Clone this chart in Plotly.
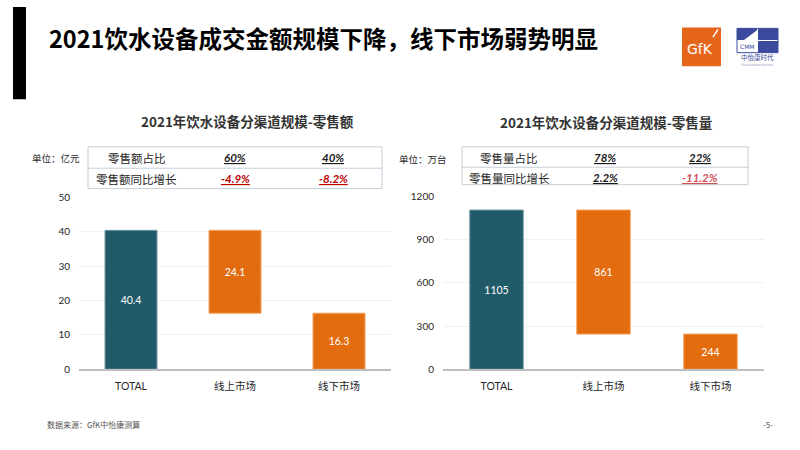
import plotly.graph_objects as go

# ---------------- data ----------------
categories = ["TOTAL", "线上市场", "线下市场"]
amount_values = [40.4, 24.1, 16.3]      # 零售额 (亿元)
volume_values = [1105, 861, 244]        # 零售量 (万台)
amount_ticks = [0, 10, 20, 30, 40, 50]
volume_ticks = [0, 300, 600, 900, 1200]

amount_share = ["60%", "40%"]
amount_growth = ["-4.9%", "-8.2%"]
volume_share = ["78%", "22%"]
volume_growth = ["2.2%", "-11.2%"]

title = "2021饮水设备成交金额规模下降，线下市场弱势明显"
sub_left = "2021年饮水设备分渠道规模-零售额"
sub_right = "2021年饮水设备分渠道规模-零售量"
source = "数据来源：GfK中怡康测算"

W, H = 800, 450
TEAL = "#215A68"
ORANGE = "#E36C0E"
FONT = "Lato, 'Noto Sans CJK SC', sans-serif"
CJK = "'Noto Sans CJK SC', sans-serif"


def px(x):
    return x / W


def py(y):
    return 1 - y / H


def waterfall_bases(vals):
    # total from 0, online sits on top of offline, offline from 0
    return [0, vals[2], 0]


fig = go.Figure()

for vals, xa, ya in [(amount_values, "x", "y"), (volume_values, "x2", "y2")]:
    fig.add_trace(go.Bar(
        x=categories, y=vals, base=waterfall_bases(vals),
        xaxis=xa, yaxis=ya, width=0.5,
        marker=dict(color=[TEAL, ORANGE, ORANGE],
                    line=dict(color=["#6F9AA5", "#F3A25E", "#F3A25E"], width=1)),
        text=[str(v) for v in vals], textposition="inside",
        insidetextanchor="middle", textangle=0,
        textfont=dict(color="white", size=10.5, family=FONT),
        hoverinfo="skip", showlegend=False,
    ))

axis_common = dict(showgrid=False, showline=True, linecolor="#BFBFBF", linewidth=1.5,
                   ticks="", tickfont=dict(size=10.5, color="#262626", family=FONT),
                   fixedrange=True)
yaxis_common = dict(showgrid=True, gridcolor="#F0F0F0", gridwidth=1, zeroline=False,
                    showline=False, ticks="", ticklabelstandoff=8,
                    tickfont=dict(size=10, color="#262626", family=FONT), fixedrange=True)

fig.update_layout(
    width=W, height=H,
    margin=dict(l=0, r=0, t=0, b=0),
    paper_bgcolor="white", plot_bgcolor="white",
    xaxis=dict(domain=[px(79), px(391)], anchor="y", ticklabelstandoff=6, **axis_common),
    yaxis=dict(domain=[py(373), py(196)], anchor="x", range=[0, 50],
               tickvals=amount_ticks, **yaxis_common),
    xaxis2=dict(domain=[px(443), px(764)], anchor="y2", ticklabelstandoff=6, **axis_common),
    yaxis2=dict(domain=[py(373), py(195)], anchor="x2", range=[0, 1200],
                tickvals=volume_ticks, **yaxis_common),
    bargap=0.5,
)

ann = []
shapes = []


def text(x, y, s, size, color="#262626", family=CJK, anchor="center"):
    ann.append(dict(x=px(x), y=py(y), xref="paper", yref="paper", text=s,
                    showarrow=False, xanchor=anchor, yanchor="middle",
                    font=dict(size=size, color=color, family=family)))


# header
shapes.append(dict(type="rect", xref="paper", yref="paper", x0=px(13), x1=px(26),
                   y0=py(95), y1=py(0), fillcolor="black", line=dict(width=0)))
text(47, 32, "<b>" + title + "</b>", 23.5, "#000000", anchor="left")

# GfK logo
shapes.append(dict(type="rect", xref="paper", yref="paper", x0=px(682), x1=px(721),
                   y0=py(61), y1=py(21), fillcolor="#E5661A", line=dict(width=0)))
shapes.append(dict(type="line", xref="paper", yref="paper", x0=px(718), x1=px(713),
                   y0=py(23), y1=py(31), line=dict(color="white", width=1.5)))
text(700, 43, "GfK", 14, "white", family="'DejaVu Sans', sans-serif")

# CMM logo
NAVY = "#3C4A9E"
shapes.append(dict(type="rect", xref="paper", yref="paper", x0=px(737), x1=px(778),
                   y0=py(47), y1=py(22), fillcolor="white", line=dict(color=NAVY, width=1)))
shapes.append(dict(type="rect", xref="paper", yref="paper", x0=px(758), x1=px(778),
                   y0=py(34), y1=py(22), fillcolor=NAVY, line=dict(width=0)))
shapes.append(dict(type="rect", xref="paper", yref="paper", x0=px(758), x1=px(778),
                   y0=py(47), y1=py(35), fillcolor=NAVY, line=dict(width=0)))
shapes.append(dict(type="path", xref="paper", yref="paper",
                   path=f"M {px(737)},{py(22)} L {px(757)},{py(22)} L {px(757)},{py(24)} "
                        f"L {px(744)},{py(34)} L {px(737)},{py(34)} Z",
                   fillcolor=NAVY, line=dict(width=0)))
text(747, 41, "CMM", 6, NAVY, family="'DejaVu Sans', sans-serif")
text(757, 52, "中怡康时代", 6.5, NAVY)
text(757, 59.5, "China Market Monitor", 3, "#8890B8", family="'DejaVu Sans', sans-serif")

# subtitles
text(247, 117, "<b>" + sub_left + "</b>", 13.5, "#333333")
text(606, 118, "<b>" + sub_right + "</b>", 13.5, "#333333")

# units
text(30, 155, "单位：亿元", 9.5, "#262626", anchor="left")
text(397, 157, "单位：万台", 9.5, "#262626", anchor="left")

# tables
BORDER = "#C5CED8"
for (x0, x1, y0, ym, y1) in [(88, 382, 144, 166, 187), (462, 748, 144, 165, 183)]:
    shapes.append(dict(type="rect", xref="paper", yref="paper", x0=px(x0), x1=px(x1),
                       y0=py(y1), y1=py(y0), line=dict(color=BORDER, width=1)))
    shapes.append(dict(type="line", xref="paper", yref="paper", x0=px(x0), x1=px(x1),
                       y0=py(ym), y1=py(ym), line=dict(color=BORDER, width=1)))


def val(v):
    return "<b><i><u>" + v + "</u></i></b>"


text(137, 155, "零售额占比", 11.5)
text(136, 177, "零售额同比增长", 11.5)
for xv, s in zip([235, 333], amount_share):
    text(xv, 155, val(s), 11.5, "#1A1A1A", family=FONT)
for xv, s in zip([235, 333], amount_growth):
    text(xv, 177, val(s), 11.5, "#C00000", family=FONT)

text(509, 155, "零售量占比", 11.5)
text(509, 176, "零售量同比增长", 11.5)
growth_colors = ["#1A1A1A", "#D0505A"]
for xv, s in zip([605, 700], volume_share):
    text(xv, 155, val(s), 11.5, "#1A1A1A", family=FONT)
for xv, s, c in zip([605, 700], volume_growth, growth_colors):
    text(xv, 176, val(s), 11.5, c, family=FONT)

# footer
text(45, 430, source, 8, "#555555", anchor="left")
text(768, 430, "-5-", 8, "#555555")

fig.update_layout(annotations=ann, shapes=shapes)
fig.write_html("out.html", config={"displayModeBar": False},
               post_script="document.body.style.margin='0';document.body.style.overflow='hidden';")
